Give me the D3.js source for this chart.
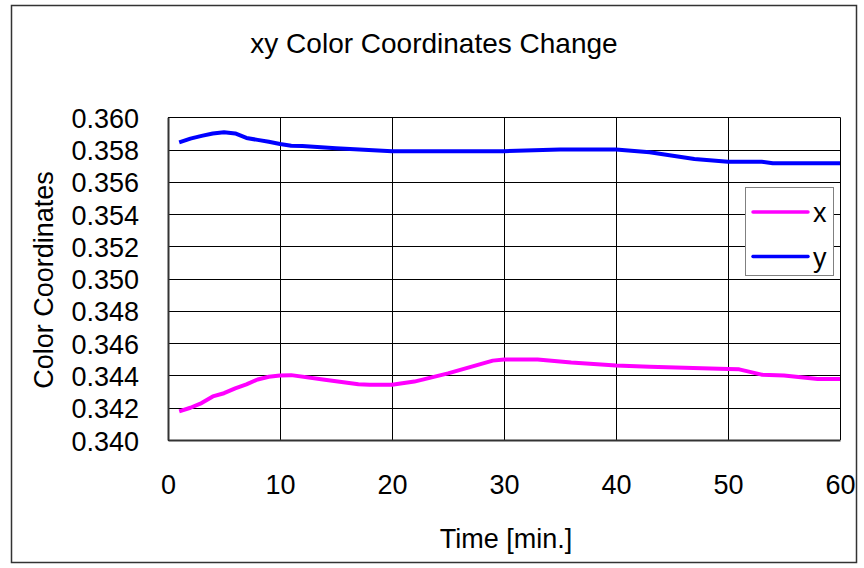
<!DOCTYPE html>
<html>
<head>
<meta charset="utf-8">
<script src="https://cdn.jsdelivr.net/npm/d3@7"></script>
<style>
  html, body { margin: 0; padding: 0; background: #fff; }
  text { font-family: "Liberation Sans", Arial, sans-serif; fill: #000; }
</style>
</head>
<body>
<svg id="chart" width="864" height="568"></svg>
<script>
const titleText = "xy Color Coordinates Change";
const xAxisTitle = "Time [min.]";
const yAxisTitle = "Color Coordinates";
const xTicks = [0, 10, 20, 30, 40, 50, 60];
const yTicks = [0.340, 0.342, 0.344, 0.346, 0.348, 0.350, 0.352, 0.354, 0.356, 0.358, 0.360];
const seriesNames = ["x", "y"];
const seriesColors = ["#ff00ff", "#0000ff"];

const timeX = [1, 2, 3, 4, 5, 6, 7, 8, 9, 10, 11, 14, 17, 18, 20, 22, 25, 29, 30, 33, 36, 40, 43, 50, 51, 53, 55, 58, 60];
const valuesX = [0.34177, 0.34200, 0.34229, 0.34270, 0.34290, 0.34320, 0.34345, 0.34375, 0.34392, 0.34400, 0.34402, 0.34373, 0.34345, 0.34342, 0.34342, 0.34362, 0.34413, 0.34492, 0.34499, 0.34499, 0.34480, 0.34462, 0.34454, 0.34440, 0.34438, 0.34405, 0.34400, 0.34378, 0.34378];

const timeY = [1, 2, 3, 4, 5, 6, 7, 8, 9, 10, 11, 12, 15, 20, 25, 30, 35, 40, 43, 47, 50, 53, 54, 60];
const valuesY = [0.35845, 0.35868, 0.35885, 0.35900, 0.35907, 0.35900, 0.35872, 0.35860, 0.35848, 0.35835, 0.35824, 0.35822, 0.35808, 0.35790, 0.35790, 0.35790, 0.35800, 0.35800, 0.35783, 0.35742, 0.35725, 0.35725, 0.35715, 0.35715];

const svg = d3.select("#chart");
const L = 168, R = 840, T = 117.3, B = 440;
const FS = 27;

const x = d3.scaleLinear().domain([0, 60]).range([L, R]);
const y = d3.scaleLinear().domain([0.340, 0.360]).range([B, T]);

// outer border
svg.append("rect").attr("x", 11.5).attr("y", 5.5).attr("width", 845).attr("height", 557)
  .attr("fill", "#fff").attr("stroke", "#333").attr("stroke-width", 1.5);

function ctext(g, tx, ty, str, anchor, rot, fs) {
  const t = g.append("g").attr("transform", `translate(${tx},${ty})` + (rot ? ` rotate(${rot})` : ""));
  return t.append("text").attr("text-anchor", anchor).attr("dominant-baseline", "central")
    .attr("font-size", fs || FS).text(str);
}

// title
ctext(svg, 434, 43, titleText, "middle", 0, 28);

// grid
const grid = svg.append("g");
grid.selectAll("line.h").data(yTicks).join("line")
  .attr("x1", L).attr("x2", R).attr("y1", d => Math.round(y(d)) + 0.5).attr("y2", d => Math.round(y(d)) + 0.5)
  .attr("stroke", "#000").attr("stroke-width", 1);
grid.selectAll("line.v").data(xTicks).join("line")
  .attr("y1", T).attr("y2", B).attr("x1", d => Math.round(x(d)) + 0.5).attr("x2", d => Math.round(x(d)) + 0.5)
  .attr("stroke", "#000").attr("stroke-width", 1);

// axes
const xAxis = d3.axisBottom(x).tickValues(xTicks).tickSize(0).tickFormat(d3.format("d"));
const gx = svg.append("g").attr("transform", `translate(0,${B})`).call(xAxis);
gx.select(".domain").attr("stroke", "#333").attr("stroke-width", 2);
gx.selectAll(".tick text").remove();
gx.selectAll(".tick").each(function(d) {
  ctext(d3.select(this), 0, 45, d3.format("d")(d), "middle");
});

const yAxis = d3.axisLeft(y).tickValues(yTicks).tickSize(0).tickFormat(d3.format(".3f"));
const gy = svg.append("g").attr("transform", `translate(${L},0)`).call(yAxis);
gy.select(".domain").attr("stroke", "#333").attr("stroke-width", 2);
gy.selectAll(".tick text").remove();
gy.selectAll(".tick").each(function(d) {
  ctext(d3.select(this), -29, 1, d3.format(".3f")(d), "end");
});

// axis titles
ctext(svg, 506, 539, xAxisTitle, "middle");
ctext(svg, 44, 280, yAxisTitle, "middle", -90);

// lines
const line = d3.line().x(d => x(d[0])).y(d => y(d[1]));
const dataX = timeX.map((t, i) => [t, valuesX[i]]);
const dataY = timeY.map((t, i) => [t, valuesY[i]]);
svg.append("path").datum(dataX).attr("d", line).attr("fill", "none")
  .attr("stroke", seriesColors[0]).attr("stroke-width", 4).attr("stroke-linejoin", "round");
svg.append("path").datum(dataY).attr("d", line).attr("fill", "none")
  .attr("stroke", seriesColors[1]).attr("stroke-width", 4).attr("stroke-linejoin", "round");

// legend
const lg = svg.append("g");
lg.append("rect").attr("x", 745.5).attr("y", 187.5).attr("width", 88).attr("height", 88)
  .attr("fill", "#fff").attr("stroke", "#808080").attr("stroke-width", 1);
seriesNames.forEach((n, i) => {
  const ly = 212 + i * 44.5;
  lg.append("line").attr("x1", 753).attr("x2", 808).attr("y1", ly).attr("y2", ly)
    .attr("stroke", seriesColors[i]).attr("stroke-width", 3.5).attr("stroke-linecap", "round");
  ctext(lg, 813, ly + 1, n, "start");
});
</script>
</body>
</html>
